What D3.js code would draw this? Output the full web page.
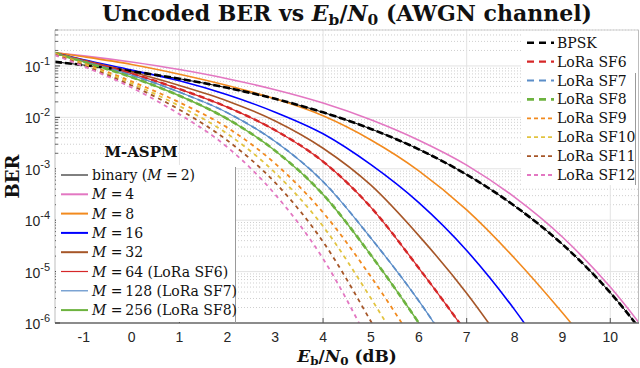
<!DOCTYPE html>
<html>
<head>
<meta charset="utf-8">
<script src="https://cdn.jsdelivr.net/npm/d3@7"></script>
<style>
  body { margin: 0; background: #fff; }
  svg { display: block; }
  .tick-label { font-family: "Liberation Sans", Arial, sans-serif; font-size: 14px; fill: #262626; }
  .leg { font-family: "DejaVu Serif", serif; font-size: 14px; fill: #111; }
  .bold { font-family: "DejaVu Serif", serif; font-weight: bold; fill: #111; }
</style>
</head>
<body>
<svg id="chart" width="640" height="368"></svg>
<script>
// Eb/N0 grid (dB) the curves were read at
const ebn0 = [-1.6, -1, 0, 1, 2, 3, 4, 5, 6, 7, 8, 9, 10, 11];

// BER
const bpsk   = [0.120, 0.104, 0.0786, 0.0563, 0.0375, 0.0229, 0.0125, 0.00595, 0.00239, 7.7e-4, 1.9e-4, 3.4e-5, 3.9e-6, 2.6e-7];
const m2     = bpsk;
const m4     = [0.180, 0.157, 0.119, 0.085, 0.0565, 0.0345, 0.019, 0.009, 0.0036, 1.18e-3, 2.8e-4, 4.7e-5, 5.0e-6, 3.3e-7];
const m8     = [0.182, 0.151, 0.107, 0.0692, 0.0417, 0.0229, 0.0107, 0.00363, 9.12e-4, 1.58e-4, 1.82e-5, 1.58e-6, 1.12e-7, null];
const m16    = [0.178, 0.132, 0.0832, 0.0513, 0.0275, 0.0126, 0.00479, 0.00120, 2.19e-4, 2.57e-5, 1.82e-6, 8.13e-8, null, null];
const m32    = [0.178, 0.129, 0.0759, 0.0417, 0.0209, 0.00851, 0.00251, 4.79e-4, 5.01e-5, 3.80e-6, 1.91e-7, null, null, null];
const m64    = [0.178, 0.126, 0.0708, 0.0355, 0.0158, 0.00562, 0.00138, 1.78e-4, 1.17e-5, 6.31e-7, 2.51e-8, null, null, null];
const m128   = [0.178, 0.123, 0.0661, 0.0309, 0.0123, 0.00339, 5.62e-4, 4.47e-5, 2.69e-6, 1.07e-7, null, null, null, null];
const m256   = [0.178, 0.120, 0.0603, 0.0263, 0.00933, 0.00224, 3.16e-4, 2.09e-5, 1.0e-6, 3.55e-8, null, null, null, null];
const sf6    = m64;
const sf7    = m128;
const sf8    = m256;
const sf9    = [0.174, 0.112, 0.0501, 0.0195, 0.00631, 0.00126, 1.41e-4, 7.94e-6, 3.02e-7, null, null, null, null, null];
const sf10   = [0.170, 0.107, 0.0457, 0.0166, 0.00479, 8.32e-4, 7.59e-5, 3.02e-6, 8.51e-8, null, null, null, null, null];
const sf11   = [0.166, 0.102, 0.0417, 0.0141, 0.00355, 5.37e-4, 3.80e-5, 1.07e-6, 2.14e-8, null, null, null, null, null];
const sf12   = [0.162, 0.0977, 0.0380, 0.0115, 0.00263, 3.16e-4, 1.78e-5, 3.55e-7, null, null, null, null, null, null];

const xLabels = d3.range(-1, 11);
const xGrid = [1, 4, 7, 10];
const yDecades = [1e-6, 1e-5, 1e-4, 1e-3, 1e-2, 1e-1];

// solid M-ASPM series
const aspm = [
  {name: "binary", m: "2", data: m2, color: "#000000", w: 1, lw: 1},
  {name: "", m: "4", data: m4, color: "#e377c2", w: 1.6, lw: 2},
  {name: "", m: "8", data: m8, color: "#f28a1e", w: 1.6, lw: 2},
  {name: "", m: "16", data: m16, color: "#0000ff", w: 1.6, lw: 2},
  {name: "", m: "32", data: m32, color: "#a65628", w: 1.6, lw: 2},
  {name: "", m: "64", sf: "6", data: m64, color: "#d62728", w: 1.2, lw: 1.2},
  {name: "", m: "128", sf: "7", data: m128, color: "#5b8dc8", w: 1.2, lw: 1.2},
  {name: "", m: "256", sf: "8", data: m256, color: "#6db33f", w: 1.4, lw: 2}
];
// dashed reference / LoRa series
const lora = [
  {label: "BPSK", data: bpsk, color: "#000000", w: 2.6, dash: "7,3", ldash: "7,5"},
  {label: "LoRa SF6", data: sf6, color: "#d62728", w: 2.4, dash: "6,4", ldash: "7,5"},
  {label: "LoRa SF7", data: sf7, color: "#5b8dc8", w: 1.8, dash: "6,4", ldash: "7,5"},
  {label: "LoRa SF8", data: sf8, color: "#6db33f", w: 2.6, dash: "6,4", ldash: "7,5"},
  {label: "LoRa SF9", data: sf9, color: "#f28a1e", w: 1.8, dash: "4,4", ldash: "4,3"},
  {label: "LoRa SF10", data: sf10, color: "#e2c440", w: 1.8, dash: "4,4", ldash: "4,3"},
  {label: "LoRa SF11", data: sf11, color: "#a65628", w: 1.8, dash: "4,4", ldash: "4,3"},
  {label: "LoRa SF12", data: sf12, color: "#e377c2", w: 1.8, dash: "4,4", ldash: "4,3"}
];

const X0 = 55, X1 = 639, Y0 = 30, Y1 = 323;
const svg = d3.select("#chart");

const x = d3.scaleLinear().domain([-1.6, 10.6]).range([X0, X1]);
const y = d3.scaleLog().domain([1e-6, 0.5]).range([Y1, Y0]);

svg.append("defs").append("clipPath").attr("id", "plotclip")
  .append("rect").attr("x", X0).attr("y", Y0).attr("width", X1 - X0).attr("height", Y1 - Y0);

// grid
const minor = y.ticks().filter(v => !yDecades.some(d => Math.abs(v / d - 1) < 1e-6));
const grid = svg.append("g");
grid.selectAll("line.minor").data(minor).enter().append("line")
  .attr("x1", X0).attr("x2", X1)
  .attr("y1", d => y(d)).attr("y2", d => y(d))
  .attr("stroke", "#cfcfcf").attr("stroke-width", 1).attr("stroke-dasharray", "1,2");
grid.selectAll("line.major").data(yDecades).enter().append("line")
  .attr("x1", X0).attr("x2", X1)
  .attr("y1", d => y(d)).attr("y2", d => y(d))
  .attr("stroke", "#e3e3e3").attr("stroke-width", 1);
grid.selectAll("line.vx").data(xGrid).enter().append("line")
  .attr("x1", d => x(d)).attr("x2", d => x(d))
  .attr("y1", Y0).attr("y2", Y1)
  .attr("stroke", "#e3e3e3").attr("stroke-width", 1);

// curves
const line = d3.line()
  .defined(d => d[1] != null)
  .x(d => x(d[0]))
  .y(d => y(d[1]))
  .curve(d3.curveMonotoneX);
const pts = arr => ebn0.map((e, i) => [e, arr[i]]);

const curves = svg.append("g").attr("clip-path", "url(#plotclip)");
curves.selectAll("path.aspm").data(aspm).enter().append("path")
  .attr("d", d => line(pts(d.data)))
  .attr("fill", "none")
  .attr("stroke", d => d.color)
  .attr("stroke-width", d => d.w);
curves.selectAll("path.lora").data(lora).enter().append("path")
  .attr("d", d => line(pts(d.data)))
  .attr("fill", "none")
  .attr("stroke", d => d.color)
  .attr("stroke-width", d => d.w)
  .attr("stroke-dasharray", d => d.dash);

// axes box
const ax = svg.append("g");
ax.append("line").attr("x1", X0).attr("x2", X1).attr("y1", Y0).attr("y2", Y0).attr("stroke", "#cfcfcf");
ax.append("line").attr("x1", X1 - 0.5).attr("x2", X1 - 0.5).attr("y1", Y0).attr("y2", Y1).attr("stroke", "#bdbdbd");
ax.append("line").attr("x1", X0).attr("x2", X0).attr("y1", Y0).attr("y2", Y1).attr("stroke", "#bdbdbd");
ax.append("line").attr("x1", X0).attr("x2", X1).attr("y1", Y1).attr("y2", Y1).attr("stroke", "#6a6a6a").attr("stroke-width", 1.5);

// y ticks
ax.selectAll("line.ymin").data(minor).enter().append("line")
  .attr("x1", X0).attr("x2", X0 + 3)
  .attr("y1", d => y(d)).attr("y2", d => y(d))
  .attr("stroke", "#666");
ax.selectAll("line.ymaj").data(yDecades).enter().append("line")
  .attr("x1", X0).attr("x2", X0 + 5)
  .attr("y1", d => y(d)).attr("y2", d => y(d))
  .attr("stroke", "#444");
const yl = ax.selectAll("text.ytl").data(yDecades).enter().append("text")
  .attr("class", "tick-label")
  .attr("x", 50).attr("y", d => y(d) + 6)
  .attr("text-anchor", "end");
yl.append("tspan").text("10");
yl.append("tspan").attr("dy", -7).attr("font-size", 11).text(d => Math.round(Math.log10(d)));

// x ticks
ax.selectAll("line.xt").data(xGrid).enter().append("line")
  .attr("x1", d => x(d)).attr("x2", d => x(d))
  .attr("y1", Y1).attr("y2", Y1 - 5)
  .attr("stroke", "#555");
ax.selectAll("text.xtl").data(xLabels).enter().append("text")
  .attr("class", "tick-label")
  .attr("x", d => x(d)).attr("y", 342)
  .attr("text-anchor", "middle")
  .text(d => d);

// left legend (M-ASPM)
const lg = svg.append("g");
lg.append("rect").attr("x", X0 + 1).attr("y", 165).attr("width", 180).attr("height", Y1 - 166)
  .attr("fill", "#fff");
lg.append("line").attr("x1", 235.5).attr("x2", 235.5).attr("y1", 167).attr("y2", Y1)
  .attr("stroke", "#9a9a9a");
lg.append("text").attr("class", "bold").attr("font-size", 15)
  .attr("x", 141).attr("y", 157).attr("text-anchor", "middle").text("M-ASPM");
const li = lg.selectAll("g.item").data(aspm).enter().append("g")
  .attr("transform", (d, i) => `translate(0,${175 + i * 19.3})`);
li.append("line").attr("x1", 61).attr("x2", 88).attr("y1", 0).attr("y2", 0)
  .attr("stroke", d => d.color).attr("stroke-width", d => d.lw);
const lt = li.append("text").attr("class", "leg").attr("x", 92).attr("y", 5);
lt.append("tspan").text(d => d.name ? d.name + " (" : "");
lt.append("tspan").attr("font-style", "italic").text("M");
lt.append("tspan").text(d => " =\u2009" + d.m + (d.name ? ")" : "") + (d.sf ? " (LoRa SF" + d.sf + ")" : ""));

// right legend (dashed)
const rg = svg.append("g");
rg.append("rect").attr("x", 521).attr("y", Y0 + 1).attr("width", 117).attr("height", 154)
  .attr("fill", "#fff");
rg.append("line").attr("x1", 635.5).attr("x2", 635.5).attr("y1", 73).attr("y2", 185)
  .attr("stroke", "#9a9a9a");
const ri = rg.selectAll("g.item").data(lora).enter().append("g")
  .attr("transform", (d, i) => `translate(0,${42.7 + i * 18.9})`);
ri.append("line").attr("x1", 527).attr("x2", 554).attr("y1", 0).attr("y2", 0)
  .attr("stroke", d => d.color).attr("stroke-width", d => d.w)
  .attr("stroke-dasharray", d => d.ldash);
ri.append("text").attr("class", "leg").attr("x", 557).attr("y", 5).text(d => d.label);

// title and axis labels
function ebLabel(sel, size, sub) {
  sel.append("tspan").attr("font-style", "italic").text("E");
  sel.append("tspan").attr("font-size", size * 0.7).attr("dy", sub).text("b");
  sel.append("tspan").attr("dy", -sub).text("/");
  sel.append("tspan").attr("font-style", "italic").text("N");
  sel.append("tspan").attr("font-size", size * 0.7).attr("dy", sub).text("0");
}
const title = svg.append("text").attr("class", "bold").attr("font-size", 22)
  .attr("x", (X0 + X1) / 2).attr("y", 21).attr("text-anchor", "middle");
title.append("tspan").text("Uncoded BER vs ");
ebLabel(title, 22, 4);
title.append("tspan").attr("dy", -4).text(" (AWGN channel)");

const xlab = svg.append("text").attr("class", "bold").attr("font-size", 17)
  .attr("x", (X0 + X1) / 2).attr("y", 362).attr("text-anchor", "middle");
ebLabel(xlab, 17, 3);
xlab.append("tspan").attr("dy", -3).text(" (dB)");

svg.append("text").attr("class", "bold").attr("font-size", 18)
  .attr("transform", `translate(19,${(Y0 + Y1) / 2}) rotate(-90)`)
  .attr("text-anchor", "middle").text("BER");
</script>
</body>
</html>
